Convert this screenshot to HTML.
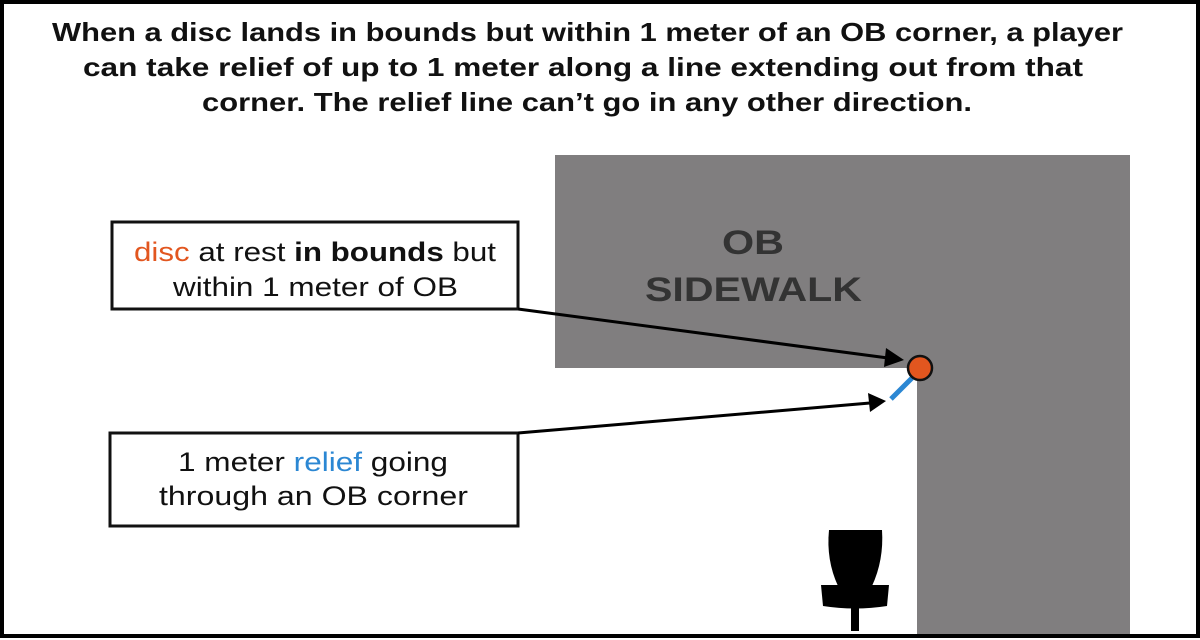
<!DOCTYPE html>
<html><head><style>
html,body{margin:0;padding:0;background:#fff}
svg{display:block}
text{font-family:"Liberation Sans",sans-serif}
</style></head><body>
<svg width="1200" height="640" viewBox="0 0 1200 640" xmlns="http://www.w3.org/2000/svg">
<rect x="0" y="0" width="1200" height="640" fill="#fff"/>
<rect x="2" y="2" width="1196" height="634" fill="none" stroke="#000" stroke-width="4"/>
<text x="52" y="41" font-size="26" font-weight="bold" fill="#111" textLength="1071" lengthAdjust="spacingAndGlyphs">When a disc lands in bounds but within 1 meter of an OB corner, a player</text>
<text x="83" y="76" font-size="26" font-weight="bold" fill="#111" textLength="1000" lengthAdjust="spacingAndGlyphs">can take relief of up to 1 meter along a line extending out from that</text>
<text x="202" y="111" font-size="26" font-weight="bold" fill="#111" textLength="770" lengthAdjust="spacingAndGlyphs">corner. The relief line can’t go in any other direction.</text>
<path d="M555 155 H1130 V634 H917 V368 H555 Z" fill="#807e7f"/>
<text x="722" y="254" font-size="34" font-weight="bold" fill="#333" textLength="62" lengthAdjust="spacingAndGlyphs">OB</text>
<text x="645" y="301" font-size="34" font-weight="bold" fill="#333" textLength="217" lengthAdjust="spacingAndGlyphs">SIDEWALK</text>
<rect x="112" y="222" width="406" height="87" fill="#fff" stroke="#111" stroke-width="3"/>
<text x="134" y="261" font-size="27" fill="#111" textLength="362" lengthAdjust="spacingAndGlyphs"><tspan fill="#e2561f">disc</tspan> at rest <tspan font-weight="bold">in bounds</tspan> but</text>
<text x="173" y="296" font-size="27" fill="#111" textLength="285" lengthAdjust="spacingAndGlyphs">within 1 meter of OB</text>
<rect x="110" y="433" width="408" height="93" fill="#fff" stroke="#111" stroke-width="3"/>
<text x="178" y="471" font-size="27" fill="#111" textLength="270" lengthAdjust="spacingAndGlyphs">1 meter <tspan fill="#2b87d3">relief</tspan> going</text>
<text x="159" y="505" font-size="27" fill="#111" textLength="309" lengthAdjust="spacingAndGlyphs">through an OB corner</text>
<line x1="518" y1="309" x2="888" y2="358" stroke="#000" stroke-width="3"/>
<polygon points="904,360 886,348 884,367" fill="#000"/>
<line x1="518" y1="433" x2="870" y2="403" stroke="#000" stroke-width="3"/>
<polygon points="886,401 868,393 870,412" fill="#000"/>
<line x1="912" y1="378" x2="891" y2="399" stroke="#2b87d3" stroke-width="5"/>
<circle cx="920" cy="368" r="12" fill="#e2561f" stroke="#111" stroke-width="2.5"/>
<path d="M829 530 H882 Q884 560 872 586 H838 Q826 560 829 530 Z" fill="#000"/>
<path d="M821 585 H889 L887 606 Q855 611 823 606 Z" fill="#000"/>
<rect x="851" y="600" width="8" height="31" fill="#000"/>
</svg>
</body></html>
